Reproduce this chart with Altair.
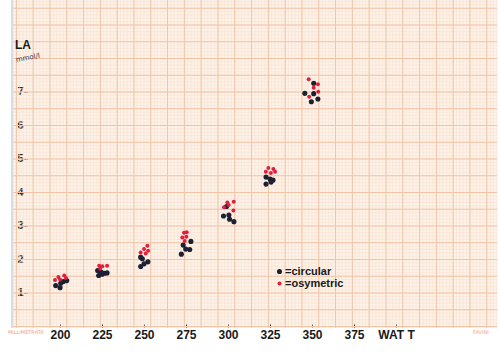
import altair as alt
import numpy as np
import pandas as pd

# ---- data ----
circ_watt = [197.4, 200.0, 200.4, 202.0, 204.0,
             222.4, 224.6, 226.4, 228.0, 223.0, 225.0,
             248.0, 249.0, 252.3, 250.0, 248.0,
             277.9, 273.3, 274.8, 277.2, 272.2,
             299.1, 297.3, 300.5, 300.9, 303.5,
             322.6, 325.0, 326.8, 322.6, 325.6,
             345.7, 351.0, 351.0, 349.6, 353.5]
circ_la = [1.22, 1.16, 1.29, 1.34, 1.37,
           1.67, 1.62, 1.59, 1.60, 1.52, 1.56,
           2.07, 2.02, 1.93, 1.87, 1.79,
           2.54, 2.43, 2.31, 2.30, 2.16,
           3.58, 3.30, 3.33, 3.20, 3.13,
           4.46, 4.40, 4.37, 4.25, 4.31,
           6.96, 6.95, 7.26, 6.71, 6.79]

osy_watt = [197.0, 199.0, 200.0, 202.5, 203.5,
            223.3, 225.2, 228.0, 223.9,
            252.0, 250.0, 252.4, 248.0, 251.0,
            273.8, 275.4, 272.8, 275.2, 274.2,
            299.6, 300.4, 303.4, 297.6, 303.2,
            324.0, 327.0, 328.0, 322.5, 325.5,
            348.0, 353.5, 351.0, 353.7, 348.3]
osy_la = [1.39, 1.48, 1.40, 1.52, 1.45,
          1.81, 1.80, 1.81, 1.72,
          2.41, 2.31, 2.26, 2.21, 2.18,
          2.80, 2.81, 2.66, 2.68, 2.55,
          3.70, 3.63, 3.72, 3.56, 3.46,
          4.73, 4.70, 4.62, 4.62, 4.58,
          7.38, 7.23, 7.13, 7.01, 6.86]

series_names = ["circular", "osymetric"]
x_ticks = [200, 225, 250, 275, 300, 325, 350, 375, 400]
y_ticks = [1, 2, 3, 4, 5, 6, 7]

df = pd.DataFrame({
    "watt": circ_watt + osy_watt,
    "la": circ_la + osy_la,
    "type": [series_names[0]] * len(circ_watt) + [series_names[1]] * len(osy_watt),
})

XDOM = [172.0, 460.1]
YDOM = [-0.045, 9.746]

xs = alt.Scale(domain=XDOM, nice=False, zero=False)
ys = alt.Scale(domain=YDOM, nice=False, zero=False)

x_axis = alt.Axis(values=x_ticks, labelExpr="datum.value == 400 ? 'WAT T' : datum.label",
                  domain=False, grid=False, tickSize=3, tickColor="#333333",
                  tickWidth=1, offset=-4, labelPadding=2,
                  labelFont="Liberation Sans", labelFontWeight="bold",
                  labelFontSize=12, labelColor="#1a1a1a")
y_axis = alt.Axis(values=y_ticks, domain=False, grid=False, tickSize=3,
                  tickColor="#333333", tickWidth=1, offset=-14, labelPadding=1,
                  labelFont="Liberation Sans", labelFontWeight="bold",
                  labelFontSize=11, labelColor="#1a1a1a")

# ---- graph-paper grid (decoration) ----
minor_x = pd.DataFrame({"watt": np.arange(172, 461, 2.0)})
major_x = pd.DataFrame({"watt": np.arange(174, 461, 10.0)})
minor_y = pd.DataFrame({"la": np.arange(0, 9.75, 0.1)})
major_y = pd.DataFrame({"la": np.arange(0, 9.75, 0.5)})

def vgrid(d, color, w):
    return alt.Chart(d).mark_rule(color=color, strokeWidth=w).encode(
        x=alt.X("watt:Q", scale=xs, axis=x_axis, title=None))

def hgrid(d, color, w):
    return alt.Chart(d).mark_rule(color=color, strokeWidth=w).encode(
        y=alt.Y("la:Q", scale=ys, axis=y_axis, title=None))

grid = (vgrid(minor_x, "#f8e0cf", 0.6) + hgrid(minor_y, "#f8e0cf", 0.6)
        + vgrid(major_x, "#f3c3a3", 1.0) + hgrid(major_y, "#f3c3a3", 1.0))

points = alt.Chart(df).mark_circle(opacity=1).encode(
    x=alt.X("watt:Q", scale=xs, title=None, axis=x_axis),
    y=alt.Y("la:Q", scale=ys, title=None, axis=y_axis),
    color=alt.Color("type:N",
                    scale=alt.Scale(domain=series_names, range=["#1b2132", "#e01f3d"]),
                    legend=alt.Legend(orient="none", legendX=261, legendY=266, title=None,
                                      labelExpr="'=' + datum.label", symbolType="circle",
                                      symbolSize=20, symbolStrokeWidth=0,
                                      labelFont="Liberation Sans", labelFontWeight="bold",
                                      labelFontSize=11, labelColor="#1a1a1a",
                                      rowPadding=0, padding=0, labelOffset=0)),
    size=alt.Size("type:N", scale=alt.Scale(domain=series_names, range=[26, 16]), legend=None),
)

# ---- annotations ----
la_title = alt.Chart(pd.DataFrame({"t": ["LA"]})).mark_text(
    font="Liberation Sans", fontWeight="bold", fontSize=12, color="#1a1a1a", align="left"
).encode(x=alt.value(2), y=alt.value(45), text="t:N")
unit = alt.Chart(pd.DataFrame({"t": ["mmol/l"]})).mark_text(
    font="DejaVu Sans", fontSize=7, color="#2a3550", align="left", angle=350
).encode(x=alt.value(3), y=alt.value(60), text="t:N")
brand_l = alt.Chart(pd.DataFrame({"t": ["MILLIMETRATA"]})).mark_text(
    font="DejaVu Sans", fontSize=5, color="#f2a27a", align="left"
).encode(x=alt.value(-5), y=alt.value(332), text="t:N")
brand_r = alt.Chart(pd.DataFrame({"t": ["FAVINI"]})).mark_text(
    font="DejaVu Sans", fontSize=5, color="#f2a27a", align="left"
).encode(x=alt.value(460), y=alt.value(332), text="t:N")
edge = alt.Chart(pd.DataFrame({"a": [0]})).mark_rule(color="#a9c0da", strokeWidth=1).encode(
    x=alt.value(-1), y=alt.value(0), y2=alt.value(328))

chart = alt.layer(grid, points, la_title, unit, brand_l, brand_r, edge).properties(
    width=484, height=328,
    autosize=alt.AutoSizeParams(type="none"),
    padding={"left": 13, "top": 0, "right": 3, "bottom": 25},
    background="white",
).configure_view(fill="#fdf3ea", stroke=None)

chart.save("out.html", embed_options={"renderer": "svg", "actions": False})
